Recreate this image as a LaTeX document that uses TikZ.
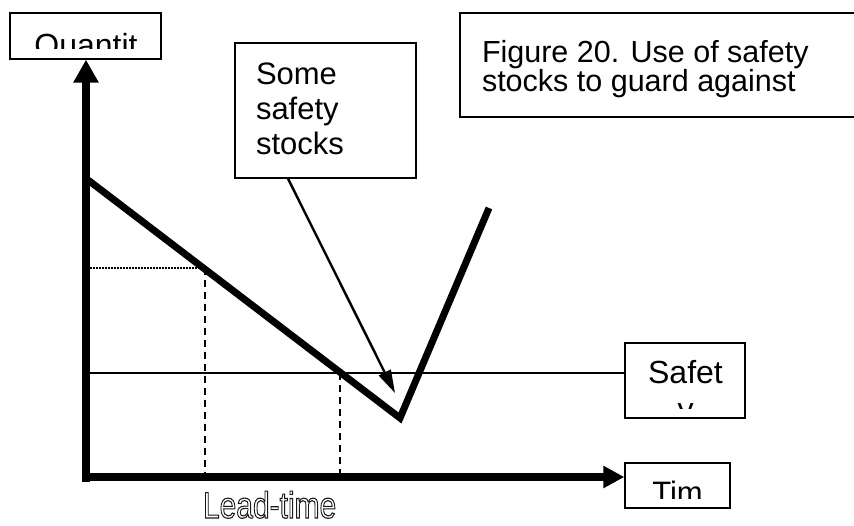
\documentclass[tikz,border=0pt]{standalone}
\usepackage{fontspec}
\setmainfont{Liberation Sans}
\usetikzlibrary{arrows.meta}
\newcommand\fsz[1]{\fontsize{#1}{#1}\selectfont}
\makeatletter
\newcommand\outlinetext[1]{\pgfsys@invoke{q 1 Tr 1.1 w 0.1 G}#1\pgfsys@invoke{Q}}
\makeatother
\tikzset{
  tbox/.style={draw, line width=1.3pt, inner sep=0pt, fill=white},
  txt/.style={anchor=base west, inner sep=0pt, outer sep=0pt},
  ctxt/.style={anchor=base, inner sep=0pt, outer sep=0pt},
  axisline/.style={line width=8pt},
  curve/.style={line width=7pt, line join=miter},
  thinline/.style={line width=1.4pt},
  guide/.style={line width=1.2pt, dash pattern=on 7pt off 5pt},
  dotguide/.style={line width=1.4pt, dash pattern=on 1.5pt off 1.5pt},
}
\begin{document}
\begin{tikzpicture}[x=1pt, y=-1pt]
\useasboundingbox (0,0) rectangle (854,525);
\fill[white] (0,0) rectangle (854,525);

% key points
\coordinate (O) at (86,477);
\coordinate (A) at (88,180);
\coordinate (D1) at (205,268);
\coordinate (C) at (340,373);
\coordinate (V) at (400,418);
\coordinate (R) at (489,208);
\coordinate (Stip) at (395,393);

% guides
\draw[dotguide] (O |- D1) ++(4,0) -- (D1);
\draw[guide] (D1) -- (D1 |- O);
\draw[guide] (C) -- (C |- O);

% boxes
\node[tbox, minimum width=151pt, minimum height=46pt] (qbox) at (85.5,36) {};
\node[tbox, minimum width=410pt, minimum height=104pt] (fbox) at (665,65) {};
\node[tbox, minimum width=181pt, minimum height=135pt] (sbox) at (325.5,110.5) {};
\node[tbox, minimum width=120pt, minimum height=75pt] (ybox) at (685,380.5) {};
\node[tbox, minimum width=105pt, minimum height=45pt] (tbox) at (677.5,485.5) {};

% safety stock line
\draw[thinline] (O |- C) -- (ybox.west |- C);

% curve
\draw[curve] (A) -- (V) -- (R);

% axes
\draw[axisline, -{Triangle[length=23pt, width=24pt]}] (86,482) -- (qbox.south -| O);
\draw[axisline, -{Triangle[length=21pt, width=21pt]}] (82,477) -- (tbox.west |- O);

% arrow from "Some safety stocks"
\draw[line width=2.4pt, -{Triangle[length=23pt, width=13pt]}] (sbox.south -| 288,0) -- (Stip);

% texts
\begin{scope}
\clip (10,13) rectangle (161,48);
\node[ctxt] (qtxt) at (86,56) {\fsz{32}Quantit};
\end{scope}

\begin{scope}
\clip (460,13) rectangle (854,113);
\node[txt] (f1) at (482,62) {\fsz{30.5}Figure 20. Use of safety};
\node[txt] (f2) at (482,91) {\fsz{30.5}stocks to guard against};
\end{scope}

\node[txt] (s1) at (256,84) {\fsz{31}Some};
\node[txt] (s2) at (256,119) {\fsz{31}safety};
\node[txt] (s3) at (256,154) {\fsz{31}stocks};

\begin{scope}
\clip (625,343) rectangle (745,408);
\node[ctxt] (y1) at (685.5,383) {\fsz{32}Safet};
\node[ctxt] (y2) at (685.5,420) {\fsz{32}y};
\end{scope}

\begin{scope}
\clip (625,463) rectangle (730,498);
\node[ctxt] (t1) at (677.5,503) {\fsz{31}Tim};
\end{scope}

% outlined Lead-time
\node[txt] (lt) at (203,518) {\fsz{37}\scalebox{0.81}[1]{\outlinetext{Lead-time}}};
\end{tikzpicture}
\end{document}
